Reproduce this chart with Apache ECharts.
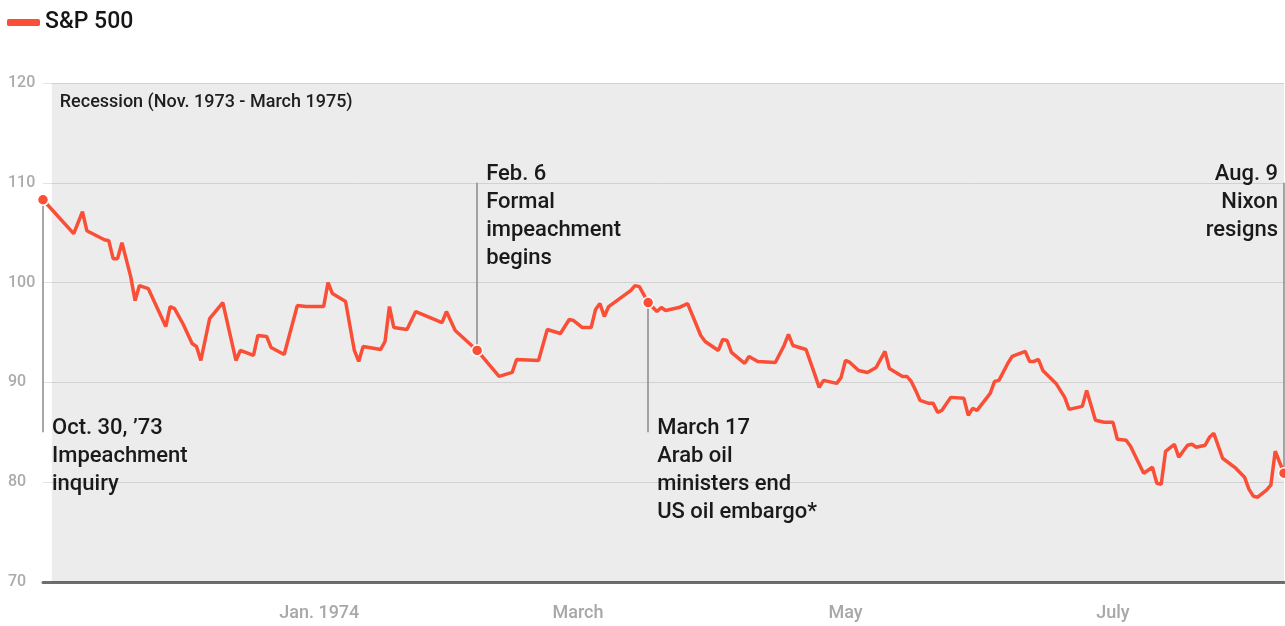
<!DOCTYPE html>
<html><head><meta charset="utf-8">
<script src="https://cdn.jsdelivr.net/npm/echarts@6/dist/echarts.min.js"></script>
<style>html,body{margin:0;padding:0;background:#fff;} #c{width:1285px;height:626px;}</style>
</head><body><div id="c"></div>
<script>
const seriesName = 'S&P 500';
const dates = [
'1973-10-30','1973-11-06','1973-11-08','1973-11-09','1973-11-13','1973-11-14','1973-11-15','1973-11-16','1973-11-17','1973-11-19','1973-11-20','1973-11-21','1973-11-23','1973-11-27','1973-11-28','1973-11-29',
'1973-12-01','1973-12-03','1973-12-04','1973-12-05','1973-12-07','1973-12-10','1973-12-13','1973-12-14','1973-12-17','1973-12-18','1973-12-20','1973-12-21','1973-12-24','1973-12-27','1973-12-29',
'1974-01-02','1974-01-03','1974-01-04','1974-01-07','1974-01-09','1974-01-10','1974-01-11','1974-01-15','1974-01-16','1974-01-17','1974-01-18','1974-01-21','1974-01-23','1974-01-29','1974-01-30',
'1974-02-01','1974-02-06','1974-02-11','1974-02-14','1974-02-15','1974-02-20','1974-02-22','1974-02-25','1974-02-27','1974-02-28',
'1974-03-02','1974-03-04','1974-03-05','1974-03-06','1974-03-07','1974-03-08','1974-03-13','1974-03-14','1974-03-15','1974-03-17','1974-03-19','1974-03-20','1974-03-21','1974-03-24','1974-03-26','1974-03-29','1974-03-30',
'1974-04-02','1974-04-03','1974-04-04','1974-04-05','1974-04-08','1974-04-09','1974-04-11','1974-04-15','1974-04-17','1974-04-18','1974-04-19','1974-04-22','1974-04-24','1974-04-25','1974-04-26','1974-04-29','1974-04-30',
'1974-05-01','1974-05-02','1974-05-04','1974-05-06','1974-05-08','1974-05-10','1974-05-11','1974-05-14','1974-05-15','1974-05-16','1974-05-17','1974-05-18','1974-05-20','1974-05-21','1974-05-22','1974-05-23','1974-05-25','1974-05-28','1974-05-29','1974-05-30','1974-05-31',
'1974-06-03','1974-06-04','1974-06-05','1974-06-07','1974-06-08','1974-06-11','1974-06-12','1974-06-13','1974-06-14','1974-06-15','1974-06-18','1974-06-20','1974-06-21','1974-06-24','1974-06-25','1974-06-27','1974-06-29',
'1974-07-01','1974-07-02','1974-07-04','1974-07-05','1974-07-08','1974-07-10','1974-07-11','1974-07-12','1974-07-13','1974-07-15','1974-07-16','1974-07-18','1974-07-19','1974-07-20','1974-07-22','1974-07-23','1974-07-24','1974-07-26','1974-07-29','1974-07-31',
'1974-08-01','1974-08-02','1974-08-03','1974-08-05','1974-08-06','1974-08-07','1974-08-09'
];
const values = [
108.3,104.9,107.1,105.2,104.3,104.2,102.4,102.4,104.0,100.6,98.2,99.7,99.4,95.6,97.6,97.4,
95.8,93.9,93.6,92.2,96.4,98.0,92.2,93.2,92.7,94.7,94.6,93.5,92.8,97.7,97.6,
97.6,100.0,98.9,98.1,93.2,92.1,93.6,93.3,94.1,97.6,95.5,95.3,97.1,96.0,97.1,
95.2,93.2,90.6,91.0,92.3,92.2,95.3,94.9,96.3,96.2,
95.5,95.5,97.3,97.9,96.6,97.6,99.2,99.7,99.6,98.0,97.1,97.5,97.2,97.5,97.9,94.7,94.1,
93.2,94.3,94.2,93.0,91.9,92.6,92.1,92.0,93.7,94.8,93.7,93.3,90.8,89.5,90.2,89.9,90.5,
92.2,92.0,91.2,91.0,91.5,93.1,91.4,90.6,90.6,90.1,89.2,88.2,87.9,87.9,87.0,87.2,88.5,88.4,86.7,87.4,87.2,
88.9,90.1,90.2,91.9,92.6,93.1,92.1,92.1,92.3,91.2,89.9,88.5,87.3,87.6,89.2,86.2,86.0,
86.0,84.3,84.2,83.6,80.9,81.5,79.9,79.8,83.1,83.8,82.5,83.7,83.8,83.5,83.7,84.5,84.9,82.4,81.4,80.5,
79.3,78.6,78.5,79.2,79.7,83.1,80.9
];
const yMin = 70, yMax = 120, yStep = 10;
const xTickDates = ['1974-01-01','1974-03-01','1974-05-01','1974-07-01'];
const xTickLabels = ['Jan. 1974','March','May','July'];
const recessionStart = '1973-11-01';
const recessionLabel = 'Recession (Nov. 1973 - March 1975)';
const eventDates = ['1973-10-30','1974-02-06','1974-03-17','1974-08-09'];
const eventValues = [108.3, 93.2, 98.0, 80.9];
const eventLineEnds = [85, 110, 85, 110];
const eventTexts = [
  'Oct. 30, \u201973\nImpeachment\ninquiry',
  'Feb. 6\nFormal\nimpeachment\nbegins',
  'March 17\nArab oil\nministers end\nUS oil embargo*',
  'Aug. 9\nNixon\nresigns'
];

// style config (not data)
const RED = '#fa4f36';
const FONT = 'Roboto, "Noto Sans", sans-serif';
const eventSides = ['right','right','right','left'];

const ts = s => { const p = s.split('-').map(Number); return new Date(p[0], p[1]-1, p[2]).getTime(); };
const xTickTimes = xTickDates.map(ts);
const lineData = dates.map((d,i)=>[ts(d), values[i]]);
const eventData = eventDates.map((d,i)=>[ts(d), eventValues[i]]);

const chart = echarts.init(document.getElementById('c'), null, {renderer:'canvas'});
chart.setOption({
  animation:false,
  backgroundColor:'#fff',
  textStyle:{fontFamily:FONT},
  legend:{
    data:[seriesName], left:2, top:6, icon:'roundRect', itemWidth:33, itemHeight:7, itemGap:10,
    textStyle:{fontSize:23, fontWeight:500, color:'#151515', fontFamily:FONT}
  },
  grid:{left:43, right:1, top:83, bottom:44, containLabel:false},
  xAxis:{
    type:'value', min:ts(dates[0]), max:ts(dates[dates.length-1]),
    axisLine:{show:true, lineStyle:{color:'#6e6e6e', width:3}},
    axisTick:{show:false}, splitLine:{show:false},
    axisLabel:{
      customValues:xTickTimes, color:'#a8a8a8', fontSize:18, fontWeight:500, margin:22, fontFamily:FONT,
      hideOverlap:false,
      formatter:(v)=>{ const t = +v; for (let i=0;i<xTickTimes.length;i++){ if (Math.abs(t-xTickTimes[i])<43200000) return xTickLabels[i]; } return ''; }
    }
  },
  yAxis:{
    type:'value', min:yMin, max:yMax, interval:yStep,
    axisLine:{show:false}, axisTick:{show:false},
    splitLine:{lineStyle:{color:'#e2e2e2', width:1}},
    axisLabel:{color:'#ababab', fontSize:16, fontWeight:500, align:'left', margin:35, fontFamily:FONT}
  },
  series:[
    {
      name:seriesName, type:'line', data:lineData, showSymbol:false, z:3,
      lineStyle:{color:RED, width:3.5}, itemStyle:{color:RED},
      markArea:{
        silent:true, z:1,
        itemStyle:{color:'rgba(0,0,0,0.075)'},
        label:{show:true, position:'insideTopLeft', distance:8, offset:[0,2], color:'#1e1e1e', fontSize:18, fontWeight:500, fontFamily:FONT},
        data:[[{name:recessionLabel, xAxis:ts(recessionStart)},{xAxis:ts(dates[dates.length-1])}]]
      }
    },
    {
      name:'events', type:'scatter', data:eventData, symbolSize:11, z:5, clip:false,
      itemStyle:{color:RED, borderColor:'#fff', borderWidth:1.5, opacity:1},
      markLine:{
        silent:true, symbol:'none', z:2,
        lineStyle:{color:'#8a8a8a', width:1.5, type:'solid'},
        label:{show:false},
        data:eventDates.map((d,i)=>[{coord:[ts(d), eventValues[i]]},{coord:[ts(d), eventLineEnds[i]]}])
      }
    }
  ]
});

const graphics = eventDates.map((d,i)=>{
  const p = chart.convertToPixel({xAxisIndex:0, yAxisIndex:0}, [ts(d), eventLineEnds[i]]);
  const top = eventLineEnds[i] < eventValues[i] ? p[1] - 18 : p[1] - 22;
  const right = eventSides[i] === 'right';
  return {
    type:'text', x: right ? p[0] + 9 : p[0] - 6, y: top, z:10,
    style:{text:eventTexts[i], fill:'#1a1a1a', font:'500 22px ' + FONT, lineHeight:28,
      align: right ? 'left' : 'right', verticalAlign:'top'}
  };
});
chart.setOption({graphic:graphics});
</script></body></html>
